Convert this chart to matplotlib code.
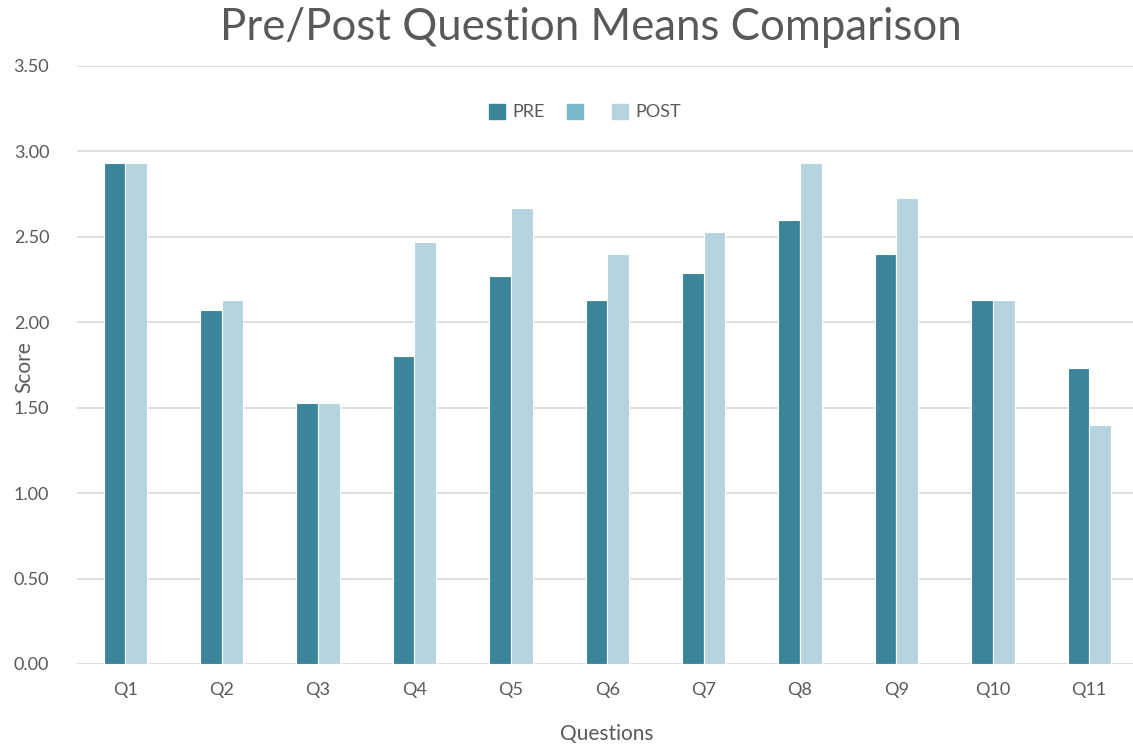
import matplotlib.pyplot as plt
import numpy as np
from matplotlib.patches import Patch

questions = ["Q1", "Q2", "Q3", "Q4", "Q5", "Q6", "Q7", "Q8", "Q9", "Q10", "Q11"]
pre = [2.93, 2.07, 1.53, 1.80, 2.27, 2.13, 2.29, 2.60, 2.40, 2.13, 1.73]
post = [2.93, 2.13, 1.53, 2.47, 2.67, 2.40, 2.53, 2.93, 2.73, 2.13, 1.40]

pre_color = "#3A8599"
mid_color = "#7AB8CC"
post_color = "#B6D4DF"
text_color = "#595959"

plt.rcParams['font.family'] = ['Lato', 'DejaVu Sans']

fig = plt.figure(figsize=(11.33, 7.48), dpi=100)
ax = fig.add_axes([0.068, 0.1123, 0.932, 0.7995])

x = np.arange(len(questions))
w = 0.225
ax.bar(x - w, pre, width=w, align='edge', color=pre_color, edgecolor='white', linewidth=0.8, zorder=3)
ax.bar(x, post, width=w, align='edge', color=post_color, edgecolor='white', linewidth=0.8, zorder=3)

ax.set_xlim(-0.5, 10.454)
ax.set_ylim(0, 3.5)
ax.set_yticks(np.arange(0, 3.51, 0.5))
ax.set_yticklabels([f"{v:.2f}" for v in np.arange(0, 3.51, 0.5)])
ax.set_xticks(x)
ax.set_xticklabels(questions)
ax.tick_params(axis='both', length=0, labelsize=13, colors=text_color)
ax.tick_params(axis='x', pad=13)
ax.tick_params(axis='y', pad=20)
ax.grid(axis='y', color='#D9D9D9', linewidth=1.2, zorder=0)
for s in ax.spines.values():
    s.set_visible(False)

ax.set_xlabel("Questions", fontsize=15, color=text_color)
ax.xaxis.set_label_coords((607 - 77) / 1056, -(724 - 664) / 598)
ax.set_ylabel("Score", fontsize=15, color=text_color)
ax.yaxis.set_label_coords((34 - 77) / 1056, (664 - 367) / 598)

fig.text(591 / 1133, 1 - 28 / 748, "Pre/Post Question Means Comparison", ha='center', va='center',
         fontsize=31.5, color=text_color)

handles = [Patch(color=pre_color), Patch(color=mid_color), Patch(color=post_color)]
fig.legend(handles, ["PRE", "", "POST"], ncol=3, loc='center', bbox_to_anchor=(585 / 1133, 1 - 112 / 748),
           frameon=False, fontsize=13, labelcolor=text_color, handlelength=0.9, handleheight=0.9,
           handletextpad=0.4, columnspacing=1.2)

fig.savefig("out.png", dpi=100)
